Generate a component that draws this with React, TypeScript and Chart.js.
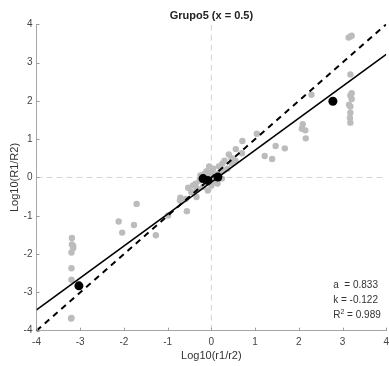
import React, { useEffect, useRef } from "react";
import { Chart, registerables } from "chart.js";

Chart.register(...registerables);

const titleText = "Grupo5 (x = 0.5)";
const xTitle = "Log10(r1/r2)";
const yTitle = "Log10(R1/R2)";
const axisMin = -4;
const axisMax = 4;

const grayX = [
  -3.19, -3.19, -3.16, -3.16, -3.2, -3.2, -3.2, -3.2, -3.21,
  -1.71, -2.12, -1.77, -2.04, -1.27, -0.99,
  1.04, 0.71, 0.56, 0.7, 0.4, 0.46, 0.3, 0.25, 0.17, -0.05, 0.04, -0.11, -0.15, -0.25,
  -0.04, 0.08, -0.42, -0.53, -0.33, -0.71, -0.46, -0.59, -0.34, -0.56, 0.0, -0.08,
  -0.19, -0.72, 0.0, 0.1, 0.05, 0.19, 0.28, 0.37, -0.1, 0.0, 0.14, 0.24, -0.27, -0.36,
  0.46, 0.55,
  1.47, 1.68, 1.22, 1.39, 2.09, 2.07, 2.15, 2.16, 2.29,
  3.21, 3.18, 3.21, 3.15, 3.18, 3.18, 3.17, 3.18, 3.18, 3.14, 3.18, 3.21,
];
const grayY = [
  -1.58, -1.75, -1.79, -1.84, -1.96, -2.37, -2.67, -3.67, -3.68,
  -0.69, -1.15, -1.24, -1.44, -1.51, -0.99,
  1.14, 0.95, 0.74, 0.63, 0.6, 0.5, 0.44, 0.36, 0.29, 0.29, 0.23, 0.16, 0.1, 0.05,
  -0.1, -0.08, -0.21, -0.27, -0.29, -0.53, -0.38, -0.56, -0.51, -0.88, -0.21, -0.34,
  -0.25, -0.6, 0.13, 0.08, 0.0, 0.13, 0.18, 0.23, 0.03, -0.18, -0.16, -0.03, -0.08, -0.16,
  0.37, 0.44,
  0.82, 0.76, 0.56, 0.48, 1.39, 1.27, 1.23, 1.02, 2.16,
  2.2, 2.14, 2.05, 1.9, 1.85, 1.69, 1.55, 1.43, 2.69, 3.65, 3.68, 3.7,
];

const blackX = [-3.03, -0.19, -0.08, 0.15, 2.78];
const blackY = [-2.83, -0.03, -0.08, 0.01, 1.99];

const fitA = 0.833;
const fitK = -0.122;
const fitR2 = 0.989;

const FONT = '"Liberation Sans", Arial, sans-serif';

const toPoints = (xs: number[], ys: number[]) => xs.map((x, i) => ({ x, y: ys[i] }));

const innerTicks = {
  id: "innerTicks",
  afterDatasetsDraw(chart: any) {
    const { ctx, chartArea } = chart;
    const xs = chart.scales.x;
    const ys = chart.scales.y;
    ctx.save();
    ctx.strokeStyle = "#999999";
    ctx.lineWidth = 1;
    xs.ticks.forEach((t: any) => {
      const p = Math.round(xs.getPixelForValue(t.value)) + 0.5;
      ctx.beginPath();
      ctx.moveTo(p, chartArea.bottom);
      ctx.lineTo(p, chartArea.bottom - 3);
      ctx.stroke();
    });
    ys.ticks.forEach((t: any) => {
      const p = Math.round(ys.getPixelForValue(t.value)) + 0.5;
      ctx.beginPath();
      ctx.moveTo(chartArea.left, p);
      ctx.lineTo(chartArea.left + 3, p);
      ctx.stroke();
    });
    ctx.restore();
  },
};

const statsText = {
  id: "statsText",
  afterDraw(chart: any) {
    const { ctx, chartArea } = chart;
    const x0 = chartArea.right - 53;
    const b = chartArea.bottom;
    ctx.save();
    ctx.fillStyle = "#333333";
    ctx.textBaseline = "middle";
    ctx.textAlign = "left";
    ctx.font = `10px ${FONT}`;
    ctx.fillText(`a  = ${fitA.toFixed(3)}`, x0, b - 45);
    ctx.fillText(`k = ${fitK.toFixed(3)}`, x0, b - 30);
    const rw = ctx.measureText("R").width;
    ctx.fillText("R", x0, b - 15);
    ctx.font = `7px ${FONT}`;
    ctx.fillText("2", x0 + rw, b - 19);
    const sw = ctx.measureText("2").width;
    ctx.font = `10px ${FONT}`;
    ctx.fillText(` = ${fitR2.toFixed(3)}`, x0 + rw + sw, b - 15);
    ctx.restore();
  },
};

export default function App() {
  const ref = useRef<HTMLCanvasElement | null>(null);

  useEffect(() => {
    if (!ref.current) return;
    const fitLine = [axisMin, axisMax].map((x) => ({ x, y: fitA * x + fitK }));
    const idLine = [axisMin, axisMax].map((x) => ({ x, y: x }));
    const chart = new Chart(ref.current, {
      type: "scatter",
      data: {
        datasets: [
          {
            data: toPoints(blackX, blackY),
            backgroundColor: "#000000",
            borderColor: "#000000",
            pointRadius: 4.5,
            borderWidth: 0,
            order: 0,
          },
          {
            data: fitLine,
            showLine: true,
            borderColor: "#000000",
            borderWidth: 1.6,
            pointRadius: 0,
            order: 1,
          },
          {
            data: idLine,
            showLine: true,
            borderColor: "#000000",
            borderWidth: 2,
            borderDash: [6, 5],
            pointRadius: 0,
            order: 2,
          },
          {
            data: toPoints(grayX, grayY),
            backgroundColor: "#bcbcbc",
            borderColor: "#bcbcbc",
            pointRadius: 3.2,
            borderWidth: 0,
            order: 3,
          },
          {
            data: [{ x: 0, y: axisMin }, { x: 0, y: axisMax }],
            showLine: true,
            borderColor: "#d4d4d4",
            borderWidth: 1,
            borderDash: [6, 4],
            pointRadius: 0,
            order: 4,
          },
          {
            data: [{ x: axisMin, y: 0 }, { x: axisMax, y: 0 }],
            showLine: true,
            borderColor: "#d4d4d4",
            borderWidth: 1,
            borderDash: [6, 4],
            pointRadius: 0,
            order: 5,
          },
        ],
      },
      options: {
        responsive: false,
        animation: false,
        layout: { padding: 0 },
        plugins: {
          legend: { display: false },
          tooltip: { enabled: false },
          title: {
            display: true,
            fullSize: false,
            text: titleText,
            color: "#222222",
            font: { family: FONT, size: 11, weight: "bold" },
            padding: { top: 9, bottom: 2 },
          },
        },
        scales: {
          x: {
            type: "linear",
            min: axisMin,
            max: axisMax,
            ticks: { stepSize: 1, color: "#444444", font: { family: FONT, size: 10 }, padding: 6 },
            grid: { display: false, drawTicks: false, tickLength: 0 },
            border: { display: true, color: "#a6a6a6", width: 1 },
            title: {
              display: true,
              text: xTitle,
              color: "#333333",
              font: { family: FONT, size: 11 },
              padding: { top: 0, bottom: 3 },
            },
            afterFit: (s: any) => {
              s.height = 35.3;
            },
          },
          y: {
            type: "linear",
            min: axisMin,
            max: axisMax,
            ticks: { stepSize: 1, color: "#444444", font: { family: FONT, size: 10 }, padding: 4 },
            grid: { display: false, drawTicks: false, tickLength: 0 },
            border: { display: true, color: "#a6a6a6", width: 1 },
            title: {
              display: true,
              text: yTitle,
              color: "#333333",
              font: { family: FONT, size: 11 },
              padding: { top: 8, bottom: 0 },
            },
            afterFit: (s: any) => {
              s.width = 36.5;
            },
          },
        },
      },
      plugins: [innerTicks, statsText],
    } as any);
    return () => chart.destroy();
  }, []);

  return (
    <div
      style={{
        position: "fixed",
        left: 0,
        top: 0,
        width: 389,
        height: 366,
        overflow: "hidden",
        background: "#fff",
      }}
    >
      <canvas ref={ref} width={395} height={366} style={{ display: "block" }} />
    </div>
  );
}
